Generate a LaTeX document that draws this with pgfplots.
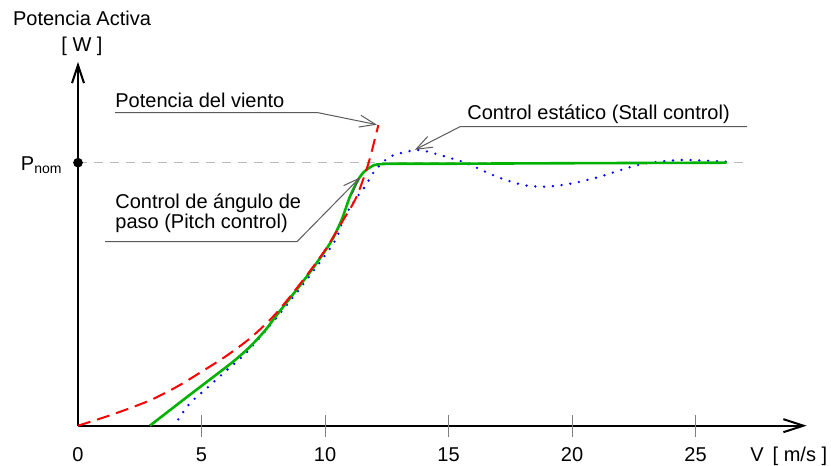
\documentclass[border=0pt]{standalone}
\usepackage{fontspec}
\setmainfont{Liberation Sans}
\usepackage{pgfplots}
\pgfplotsset{compat=1.18}
\usetikzlibrary{arrows.meta}
\definecolor{cgreen}{RGB}{0,178,0}
\definecolor{cred}{RGB}{255,0,0}
\definecolor{cblue}{RGB}{0,0,255}
\definecolor{cann}{RGB}{90,90,90}
\begin{document}
\begin{tikzpicture}[every node/.append style={inner sep=0pt}]
\begin{axis}[x=12.35pt,y=131.5pt,xmin=-3.158,xmax=30.486,ymin=-0.1532,ymax=1.6186,
  enlargelimits=false,hide axis,clip=false]
\path (axis cs:-3.158,-0.1532) rectangle (axis cs:30.486,1.6186);
% Pnom reference line
\draw[gray!55,line width=0.75pt,dash pattern=on 4.5pt off 3.5pt] (axis cs:0,1) -- (axis cs:27.13,1);
% axes
\draw[line width=1pt,-{Straight Barb[length=10pt,width=6.5pt]}] (axis cs:0,0) -- (axis cs:29.5,0);
\draw[line width=1pt,-{Straight Barb[length=9pt,width=6pt]}] (axis cs:0,0) -- (axis cs:0,1.383);
\foreach \t in {5,10,15,20,25}{
  \edef\temp{\noexpand\draw[gray,line width=0.5pt] (axis cs:\t,-0.042) -- (axis cs:\t,0.042);}
  \temp
}
\foreach \t in {0,5,10,15,20,25}{
  \edef\temp{\noexpand\node[anchor=base] at (axis cs:\t,-0.1369) {\t};}
  \temp
}
\node[anchor=base west] at (axis cs:27.21,-0.1369) {V\,\ [ m/s ]};
\node[anchor=base] at (axis cs:0.162,1.5198) {Potencia Activa};
\node[anchor=base] at (axis cs:0.162,1.422) {[ W ]};
\node[anchor=base east] at (axis cs:-0.61,0.972) {P\textsubscript{nom}};
% blue dotted: stall control
\addplot[cblue,line width=1.3pt,line cap=round,dash pattern=on 0pt off 4.4pt,smooth] coordinates {
(4.06,0.024) (4.53,0.085) (5.28,0.148) (5.95,0.205) (6.96,0.292) (8.72,0.49)
(10.34,0.693) (10.74,0.785) (11.21,0.858) (11.62,0.909) (11.89,0.953) (12.16,0.985)
(12.63,1.023) (13.31,1.042) (13.85,1.048) (14.66,1.029) (15.2,1.014) (15.73,0.998)
(16.95,0.947) (18.03,0.915) (18.97,0.909) (20.05,0.922) (21.13,0.947) (22.21,0.979)
(23.02,0.998) (24.37,1.01) (25.3,1.008) (26.26,1.004)};
% green solid: pitch control
\addplot[cgreen,line width=1.3pt,smooth] coordinates {
(2.91,0) (4.26,0.098) (5.5,0.187) (6.3,0.245) (6.96,0.3) (7.6,0.365) (8.04,0.42) (9.26,0.567) (10.2,0.693)
(10.67,0.782) (11.01,0.871) (11.42,0.947) (11.82,0.982) (12.36,0.995) (15,0.996)
(20,0.998) (26.26,1.0)};
% red dashed: wind power
\addplot[cred,line width=1pt,dash pattern=on 6.5pt off 3.5pt,smooth] coordinates {
(0,0) (1,0.03) (2,0.063) (3,0.1) (4,0.148) (5,0.205) (6,0.265) (7,0.335) (8,0.425)
(9,0.54) (10,0.667) (10.74,0.782) (11.28,0.871) (11.76,0.998) (12.16,1.143)};
% Pnom dot
\addplot[only marks,mark=*,mark size=2.2pt,black] coordinates {(0,1)};
% annotations
\node[anchor=base west] at (axis cs:1.498,1.208) {Potencia del viento};
\draw[cann,line width=0.5pt,-{Straight Barb[length=8pt,width=6pt]}] (axis cs:1.498,1.1901) -- (axis cs:9.717,1.1901) -- (axis cs:12.1,1.1445);
\node[anchor=base west] at (axis cs:15.75,1.165) {Control estático (Stall control)};
\draw[cann,line width=0.5pt,-{Straight Barb[length=8pt,width=6pt]}] (axis cs:27.09,1.137) -- (axis cs:15.47,1.137) -- (axis cs:13.64,1.049);
\node[anchor=base west] at (axis cs:1.498,0.8266) {Control de ángulo de};
\node[anchor=base west] at (axis cs:1.498,0.7479) {paso (Pitch control)};
\draw[cann,line width=0.5pt,-{Straight Barb[length=8pt,width=6pt]}] (axis cs:1.093,0.6996) -- (axis cs:8.866,0.6996) -- (axis cs:11.42,0.944);
\end{axis}
\end{tikzpicture}
\end{document}
